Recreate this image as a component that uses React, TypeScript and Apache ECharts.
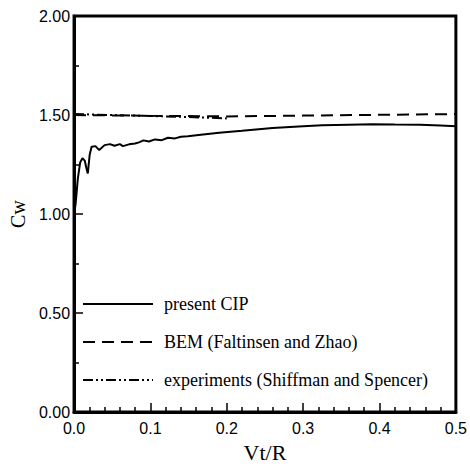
import React, { useEffect, useRef } from "react";
import * as echarts from "echarts";

const cipX = [0, 0.002, 0.005, 0.008, 0.011, 0.014, 0.016, 0.018, 0.0205, 0.023, 0.028, 0.033, 0.04, 0.047, 0.053, 0.06, 0.064, 0.072, 0.08, 0.085, 0.091, 0.098, 0.106, 0.115, 0.123, 0.132, 0.14, 0.149, 0.166, 0.19, 0.22, 0.26, 0.3, 0.325, 0.36, 0.39, 0.42, 0.453, 0.48, 0.5];
const cipY = [1.0, 1.05, 1.18, 1.26, 1.282, 1.27, 1.235, 1.205, 1.3, 1.34, 1.343, 1.323, 1.348, 1.353, 1.345, 1.353, 1.343, 1.352, 1.356, 1.362, 1.372, 1.366, 1.377, 1.373, 1.385, 1.382, 1.39, 1.393, 1.4, 1.41, 1.42, 1.435, 1.443, 1.448, 1.451, 1.453, 1.452, 1.451, 1.447, 1.443];

const bemX = [0, 0.1, 0.2, 0.3, 0.4, 0.5];
const bemY = [1.5, 1.496, 1.493, 1.497, 1.501, 1.505];

const expX = [0, 0.05, 0.1, 0.15, 0.2];
const expY = [1.505, 1.5, 1.495, 1.49, 1.483];

const seriesNames = ["present CIP", "BEM (Faltinsen and Zhao)", "experiments (Shiffman and Spencer)"];

const zip = (xs: number[], ys: number[]) => xs.map((x, i) => [x, ys[i]]);

export default function App() {
  const ref = useRef<HTMLDivElement>(null);
  useEffect(() => {
    if (!ref.current) return;
    const chart = echarts.init(ref.current, null, { renderer: "svg" });
    const sans = "Liberation Sans, Arial, sans-serif";
    const serif = "Liberation Serif, Times New Roman, serif";
    chart.setOption({
      animation: false,
      grid: { left: 65, right: 13, top: 16, bottom: 51, show: true, borderColor: "#000", borderWidth: 3, backgroundColor: "transparent" },
      legend: {
        orient: "vertical",
        left: 77,
        top: 290,
        itemWidth: 70,
        itemHeight: 18,
        itemGap: 20,
        data: seriesNames,
        itemStyle: { opacity: 0, color: "transparent", borderWidth: 0 },
        textStyle: { fontFamily: serif, fontSize: 18, color: "#000", padding: [0, 0, 0, 6] },
      },
      xAxis: {
        type: "value",
        min: 0,
        max: 0.5,
        interval: 0.1,
        axisLine: { lineStyle: { color: "#000", width: 3 } },
        axisTick: { inside: true, length: 9, lineStyle: { color: "#000", width: 1.5 } },
        minorTick: { show: true, splitNumber: 5, length: 5, lineStyle: { color: "#000", width: 1.5 } },
        splitLine: { show: false },
        axisLabel: { formatter: (v: number) => v.toFixed(1), color: "#000", fontSize: 16, fontFamily: sans, margin: 8 },
        name: "Vt/R",
        nameLocation: "middle",
        nameGap: 26,
        nameTextStyle: { fontFamily: serif, fontSize: 22, color: "#000" },
      },
      yAxis: {
        type: "value",
        min: 0,
        max: 2,
        interval: 0.5,
        axisLine: { show: true, lineStyle: { color: "#000", width: 3 } },
        axisTick: { show: true, inside: true, length: 9, lineStyle: { color: "#000", width: 1.5 } },
        minorTick: { show: true, splitNumber: 2, length: 5, lineStyle: { color: "#000", width: 1.5 } },
        splitLine: { show: false },
        axisLabel: { formatter: (v: number) => v.toFixed(2), color: "#000", fontSize: 16, fontFamily: sans, margin: 4 },
        name: "Cw",
        nameLocation: "middle",
        nameGap: 35,
        nameTextStyle: { fontFamily: serif, fontSize: 20, color: "#000" },
      },
      series: [
        {
          name: seriesNames[0],
          type: "line",
          symbol: "none",
          data: zip(cipX, cipY),
          lineStyle: { color: "#000", width: 2, type: "solid" },
          itemStyle: { color: "#000" },
        },
        {
          name: seriesNames[1],
          type: "line",
          symbol: "none",
          data: zip(bemX, bemY),
          lineStyle: { color: "#000", width: 2, type: [12, 7] },
          itemStyle: { color: "#000" },
        },
        {
          name: seriesNames[2],
          type: "line",
          symbol: "none",
          data: zip(expX, expY),
          lineStyle: { color: "#000", width: 2, type: [10, 3, 2, 3, 2, 3] },
          itemStyle: { color: "#000" },
        },
      ],
    });
    return () => chart.dispose();
  }, []);
  return <div ref={ref} style={{ position: "absolute", left: 0, top: 0, width: 470, height: 468 }} />;
}
